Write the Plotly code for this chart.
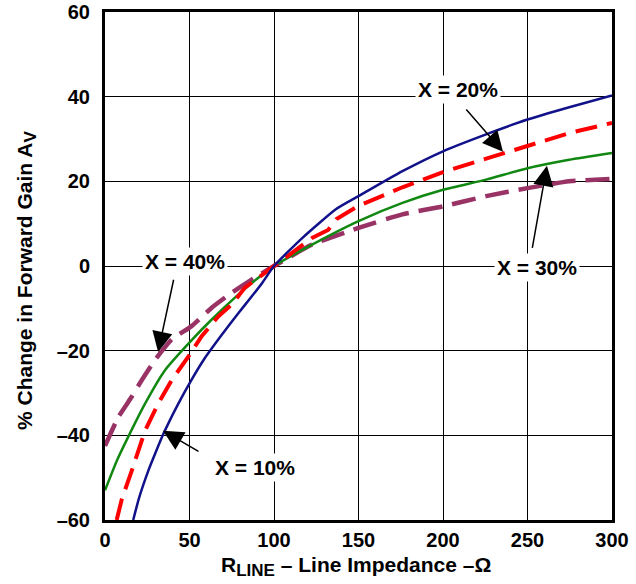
import plotly.graph_objects as go

# X = 10 %
x10 = [16.7, 20, 25.6, 30, 34.5, 43.4, 50.6, 59, 69, 79, 87, 93, 100, 117, 136.6, 150, 176, 200, 225.5, 250, 274.7, 300]
y10 = [-60, -55, -48.4, -44, -39.7, -32.5, -27.3, -21.8, -16.3, -11.1, -7.1, -4, 0, 6.7, 13.4, 16.5, 22.4, 27.1, 31.1, 34.6, 37.5, 40.3]
# X = 20 %
x20 = [6.9, 10, 15.8, 23.7, 31.5, 39.4, 49.3, 57.2, 67, 75, 82.8, 90, 100, 122.8, 132, 137, 150, 176, 200, 225.5, 250, 274.7, 300]
y20 = [-60, -55, -48.4, -38.9, -32.5, -27, -21.4, -16.6, -11.9, -9.1, -5.1, -3, 0, 6.7, 8.5, 11.1, 14.2, 18.6, 22.2, 25.4, 28.5, 31.4, 33.8]
# X = 30 %
x30 = [0, 7, 13.8, 23.7, 35.5, 50.6, 63, 79, 90, 100, 122.8, 150, 176, 200, 225.5, 250, 274.7, 300]
y30 = [-53, -46, -40.3, -32.5, -24.6, -17.8, -12.7, -6.7, -3, 0, 5.1, 10.6, 14.9, 18, 20.4, 23.1, 25.1, 26.7]
# X = 40 %
x40 = [0, 7.9, 15.8, 21.7, 29.6, 39.4, 51.2, 63, 75, 86.8, 100, 122.8, 150, 176, 200, 225.5, 250, 274.7, 300]
y40 = [-42.5, -35.7, -30.9, -27, -22.2, -17.4, -14.2, -9.9, -6.3, -3.2, 0, 5.1, 9, 12.2, 14.1, 16.5, 18.4, 20, 20.6]

x_ticks = [0, 50, 100, 150, 200, 250, 300]
y_ticks = [-60, -40, -20, 0, 20, 40, 60]
y_ticktext = ["–60", "–40", "–20", "0", "20", "40", "60"]

FONT = "Liberation Sans, Arial, sans-serif"

fig = go.Figure()
fig.add_trace(go.Scatter(x=x40, y=y40, mode="lines", name="X = 40%",
                         line=dict(color="#993366", width=4.5, dash="24px,10px",
                                   shape="spline", smoothing=0.5)))
fig.add_trace(go.Scatter(x=x30, y=y30, mode="lines", name="X = 30%",
                         line=dict(color="#118811", width=2.5, shape="spline", smoothing=0.5)))
fig.add_trace(go.Scatter(x=x20, y=y20, mode="lines", name="X = 20%",
                         line=dict(color="#ff0000", width=4, dash="22px,10px")))
fig.add_trace(go.Scatter(x=x10, y=y10, mode="lines", name="X = 10%",
                         line=dict(color="#11118a", width=2.5, shape="spline", smoothing=0.5)))

# labels
labels = [
    ("X = 40%", 47.3, 1.1),
    ("X = 10%", 88.8, -47.6),
    ("X = 20%", 208.9, 41.6),
    ("X = 30%", 255.6, -0.3),
]
for t, lx, ly in labels:
    fig.add_annotation(x=lx, y=ly, xref="x", yref="y", text=t, showarrow=False,
                       xanchor="center", yanchor="middle",
                       bgcolor="white", borderpad=2,
                       font=dict(family=FONT, size=21, color="black", weight="bold"))

# arrows (tail -> tip)
arrows = [
    (40.8, -2.9, 31.4, -20.3),
    (56.2, -44.0, 34.3, -38.9),
    (213.0, 37.3, 235.5, 27.0),
    (252.7, 3.9, 261.5, 23.7),
]
for ax_, ay_, tx, ty in arrows:
    fig.add_annotation(x=tx, y=ty, ax=ax_, ay=ay_, xref="x", yref="y", axref="x", ayref="y",
                       text="", showarrow=True, arrowhead=2, arrowsize=2.7, arrowwidth=1.5,
                       arrowcolor="black", standoff=0)

# axis titles
fig.add_annotation(x=(356 - 105) / 507, y=(520 - 566) / 508, xref="paper", yref="paper",
                   xanchor="center", yanchor="middle",
                   text="R<sub><span style='font-size:17px'>LINE</span></sub> – Line Impedance –Ω",
                   showarrow=False,
                   font=dict(family=FONT, size=21, color="black", weight="bold"))
fig.add_annotation(x=(26 - 105) / 507, y=(520 - 281) / 508, xref="paper", yref="paper",
                   xanchor="center", yanchor="middle",
                   text="% Change in Forward Gain A<sub><span style='font-size:17px'>V</span></sub>",
                   showarrow=False, textangle=-90,
                   font=dict(family=FONT, size=21, color="black", weight="bold"))

fig.update_layout(
    width=636, height=584,
    margin=dict(l=105, r=24, t=12, b=64, autoexpand=False),
    paper_bgcolor="white", plot_bgcolor="white",
    showlegend=False,
    font=dict(family=FONT, color="black"),
)
fig.update_xaxes(range=[0, 300], tickvals=x_ticks, ticktext=[str(v) for v in x_ticks],
                 automargin=False,
                 showgrid=True, gridcolor="black", gridwidth=1, zeroline=False,
                 showline=True, linecolor="black", linewidth=3, mirror=True,
                 ticks="", ticklabelstandoff=0,
                 tickfont=dict(family=FONT, size=20, color="black", weight="bold"))
fig.update_yaxes(range=[-60, 60], tickvals=y_ticks, ticktext=y_ticktext,
                 automargin=False,
                 showgrid=True, gridcolor="black", gridwidth=1, zeroline=False,
                 showline=True, linecolor="black", linewidth=3, mirror=True,
                 ticks="", ticklabelstandoff=8,
                 tickfont=dict(family=FONT, size=20, color="black", weight="bold"))

fig.write_html("out.html")
